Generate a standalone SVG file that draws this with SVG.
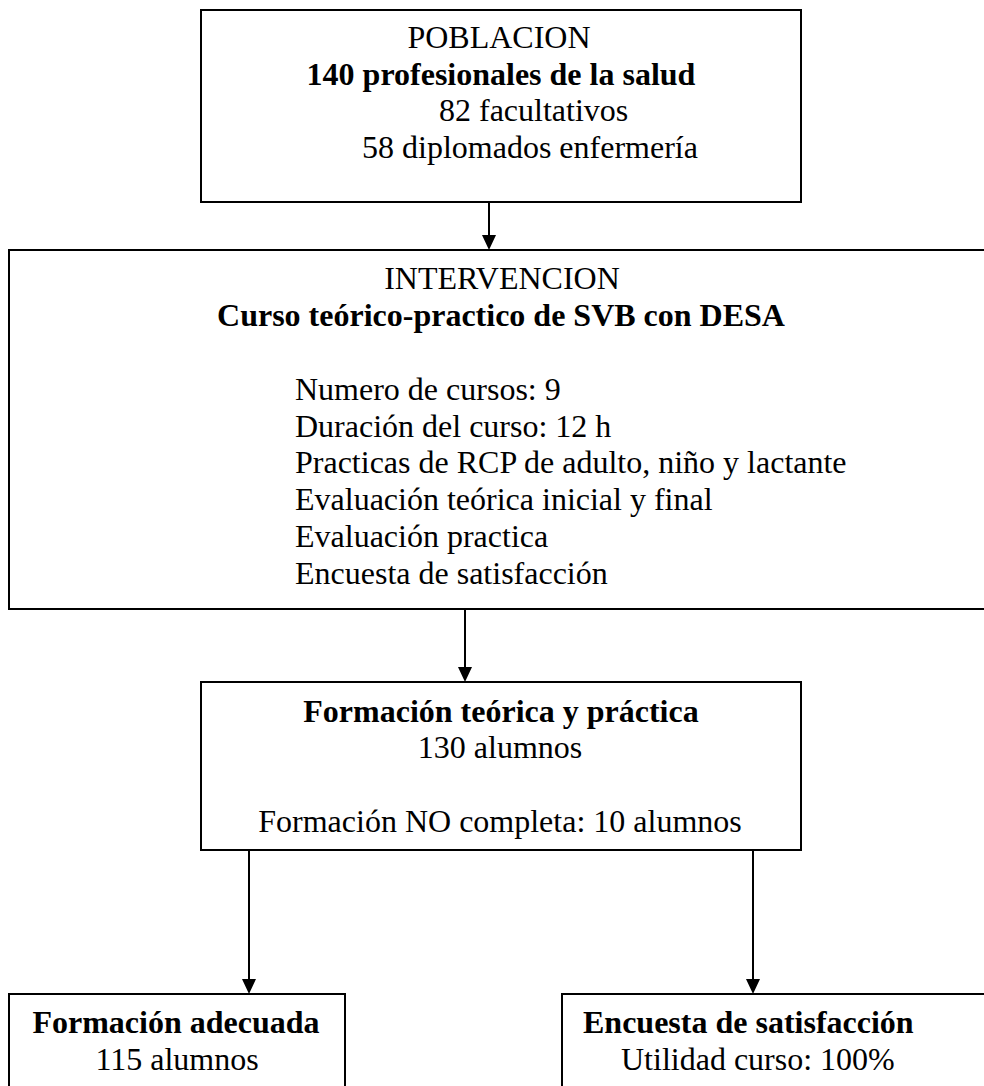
<svg xmlns="http://www.w3.org/2000/svg" width="984" height="1086" viewBox="0 0 984 1086">
<style>
.box{fill:#fff;stroke:#000;stroke-width:2}
.t{font-family:"Liberation Serif","Times New Roman",serif;font-size:32px;fill:#000}
.b{font-weight:bold}
.c{text-anchor:middle}
.conn{stroke:#000;stroke-width:2;fill:none}
.head{fill:#000;stroke:none}
</style>
<rect width="984" height="1086" fill="#fff"/>
<g id="connectors">
<line class="conn" x1="489" y1="202" x2="489" y2="236"/>
<polygon class="head" points="482,235 496,235 489,250"/>
<line class="conn" x1="465" y1="609" x2="465" y2="668"/>
<polygon class="head" points="458,667 472,667 465,682"/>
<line class="conn" x1="249" y1="850" x2="249" y2="980"/>
<polygon class="head" points="242,979 256,979 249,994"/>
<line class="conn" x1="753" y1="850" x2="753" y2="980"/>
<polygon class="head" points="746,979 760,979 753,994"/>
</g>
<g id="poblacion">
<rect class="box" x="201" y="10" width="600" height="192"/>
<text class="t c" x="499" y="48">POBLACION</text>
<text class="t b c" x="501" y="85">140 profesionales de la salud</text>
<text class="t" x="439" y="121">82 facultativos</text>
<text class="t" x="362" y="158">58 diplomados enfermería</text>
</g>
<g id="intervencion">
<rect class="box" x="9" y="250" width="990" height="359"/>
<text class="t c" x="502" y="289">INTERVENCION</text>
<text class="t b c" x="501" y="326">Curso teórico-practico de SVB con DESA</text>
<text class="t" x="295" y="400">Numero de cursos: 9</text>
<text class="t" x="295" y="437">Duración del curso: 12 h</text>
<text class="t" x="295" y="473">Practicas de RCP de adulto, niño y lactante</text>
<text class="t" x="295" y="510">Evaluación teórica inicial y final</text>
<text class="t" x="295" y="547">Evaluación practica</text>
<text class="t" x="295" y="584">Encuesta de satisfacción</text>
</g>
<g id="formacion">
<rect class="box" x="201" y="682" width="600" height="168"/>
<text class="t b c" x="501" y="722">Formación teórica y práctica</text>
<text class="t c" x="500" y="758">130 alumnos</text>
<text class="t c" x="500" y="832">Formación NO completa: 10 alumnos</text>
</g>
<g id="adecuada">
<rect class="box" x="9" y="994" width="336" height="110"/>
<text class="t b c" x="176" y="1033">Formación adecuada</text>
<text class="t c" x="177" y="1070">115 alumnos</text>
</g>
<g id="encuesta">
<rect class="box" x="562" y="994" width="440" height="110"/>
<text class="t b" x="583" y="1033">Encuesta de satisfacción</text>
<text class="t" x="621" y="1070">Utilidad curso: 100%</text>
</g>
</svg>
